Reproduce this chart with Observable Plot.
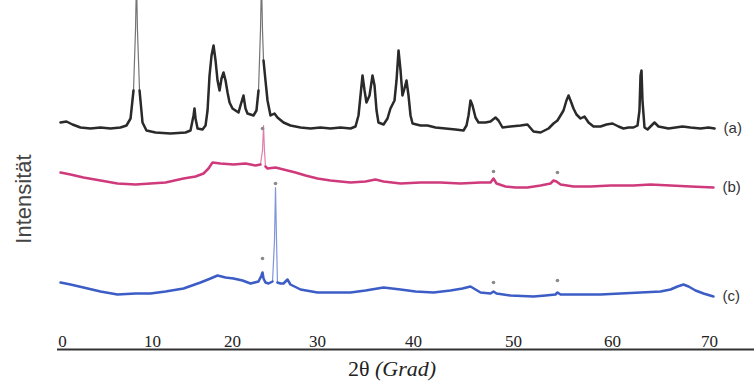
<!DOCTYPE html>
<html>
<head>
<meta charset="utf-8">
<script src="https://cdn.jsdelivr.net/npm/d3@7"></script>
<script src="https://cdn.jsdelivr.net/npm/@observablehq/plot@0.6"></script>
<style>
  html, body { margin: 0; padding: 0; background: #fff; }
  #wrap { position: relative; width: 754px; height: 385px; overflow: hidden; }
  #xlabel { width: 724px; padding-left: 30px; text-align: center; font-family: "Liberation Serif", serif; font-size: 22px; line-height: 26px; color: #222; }
  #ylabel { position: absolute; left: 24px; top: 199px; transform: translate(-50%, -50%) rotate(-90deg); font-family: "Liberation Sans", sans-serif; font-size: 22px; line-height: 22px; color: #444; white-space: nowrap; }
</style>
</head>
<body>
<div id="wrap"></div>
<script>
// 2θ tick labels (axis labels in the original are not evenly spaced)
const xTicks = [0, 10, 20, 30, 40, 50, 60, 70];
const seriesNames = ["(a)", "(b)", "(c)"];
const yTitle = "Intensität";

// Trace (a): 2θ and intensity (offset, arbitrary units)
const aX = [-0.22, 0.44, 1.11, 2.0, 3.11, 4.22, 5.33, 6.44, 7.11, 7.56, 7.89, 8.11, 8.22, 8.33, 8.56, 8.89, 9.33, 10.38, 12.25, 14.13, 14.75, 15.13, 15.25, 15.38, 15.63, 16.25, 16.63, 16.88, 17.13, 17.38, 17.63, 17.88, 18.13, 18.38, 18.63, 18.88, 19.13, 19.38, 19.63, 20, 20.35, 20.71, 20.94, 21.29, 21.53, 21.76, 22.12, 22.47, 22.82, 23.06, 23.29, 23.41, 23.53, 23.65, 23.88, 24.12, 24.47, 24.94, 25.29, 26.0, 26.82, 28.0, 29.18, 30.31, 31.35, 32.40, 33.44, 33.96, 34.27, 34.48, 34.69, 34.90, 35.10, 35.42, 35.73, 35.94, 36.15, 36.35, 36.88, 37.29, 37.60, 37.81, 38.02, 38.23, 38.44, 38.65, 38.85, 39.06, 39.27, 39.48, 39.69, 39.90, 40.7, 41.4, 42.2, 43.2, 44.2, 45.0, 45.3, 45.5, 45.7, 45.9, 46.2, 46.5, 47.2, 47.7, 48.2, 48.5, 48.9, 49.7, 50.71, 51.41, 52.02, 52.73, 53.54, 54.04, 54.44, 54.75, 55.05, 55.35, 55.56, 55.76, 56.06, 56.36, 56.77, 57.17, 57.58, 58.08, 58.79, 59.39, 60.0, 60.62, 61.13, 61.65, 62.16, 62.58, 62.78, 62.89, 62.99, 63.09, 63.30, 63.61, 64.02, 64.33, 64.74, 65.26, 65.77, 66.49, 67.22, 68.04, 69.07, 69.9, 70.52];
const aY = [227, 228, 225, 222, 221, 222, 221, 222, 224, 231, 259, 319, 370, 319, 259, 227, 219, 217, 216, 217, 219, 234, 241, 231, 221, 220, 224, 239, 274, 294, 304, 289, 269, 259, 271, 277, 269, 257, 247, 241, 239, 237, 244, 254, 241, 236, 235, 234, 239, 259, 319, 370, 319, 289, 269, 249, 234, 236, 232, 227, 224, 222, 221, 222, 221, 222, 221, 223, 234, 254, 274, 259, 247, 254, 274, 264, 239, 227, 225, 231, 241, 245, 249, 269, 299, 279, 254, 261, 269, 254, 234, 226, 224, 224, 222, 221, 220, 219, 224, 234, 249, 244, 232, 227, 227, 228, 232, 229, 222, 223, 224, 225, 218, 217, 221, 226, 229, 234, 239, 249, 254, 249, 241, 235, 231, 233, 227, 223, 223, 225, 226, 223, 221, 222, 222, 224, 239, 274, 279, 249, 222, 220, 224, 227, 223, 222, 221, 222, 223, 222, 221, 222, 221];

// Trace (b)
const bX = [-0.22, 0.89, 2.33, 4.22, 6.11, 8.11, 9.78, 11.63, 13.88, 15.38, 16.38, 17.0, 17.5, 18.5, 20.12, 21.53, 22.71, 23.29, 23.53, 23.65, 23.76, 23.88, 24.12, 25.06, 26.0, 27.41, 28.59, 30.0, 31.35, 33.44, 35.0, 36.04, 36.88, 38.65, 40.7, 42.7, 44.7, 46.7, 47.7, 48.0, 48.3, 49.2, 50.2, 51.41, 52.73, 53.74, 54.04, 54.34, 54.75, 56.06, 57.78, 59.8, 62.16, 63.92, 65.98, 68.04, 70.41];
const bY = [177, 175, 172, 169, 166, 165, 166, 167, 171, 173, 176, 181, 187, 186, 185, 186, 184, 185, 199, 224, 199, 183, 181, 182, 180, 177, 174, 171, 169, 167, 168, 170, 168, 166, 167, 167, 166, 167, 167, 171, 166, 163, 162, 162, 164, 166, 169, 168, 165, 163, 163, 164, 164, 165, 164, 163, 162];

// Trace (c)
const cX = [-0.22, 0.89, 2.33, 4.22, 6.11, 8.11, 9.78, 11.63, 13.88, 16.0, 17.25, 18.13, 19.13, 20.12, 21.18, 22.12, 23.06, 23.41, 23.53, 23.65, 23.88, 24.24, 24.71, 24.94, 25.06, 25.18, 25.29, 25.65, 26.0, 26.47, 26.82, 28.0, 30.0, 31.88, 33.44, 35.0, 36.88, 38.65, 40.2, 42.0, 43.7, 44.9, 45.7, 46.2, 46.7, 47.7, 48.0, 48.3, 49.7, 52.02, 53.23, 54.24, 54.44, 54.75, 56.77, 58.79, 60.82, 62.89, 64.95, 65.98, 66.70, 67.32, 67.84, 68.56, 69.38, 70.41];
const cY = [67, 65, 62, 58, 55, 56, 56, 58, 61, 67, 71, 74, 72, 71, 69, 66, 68, 74, 77, 71, 67, 66, 68, 109, 162, 109, 67, 66, 66, 70, 65, 60, 57, 57, 57, 59, 62, 60, 58, 57, 59, 61, 63, 60, 57, 56, 58, 56, 54, 53, 54, 55, 57, 55, 55, 55, 56, 57, 58, 60, 63, 65, 63, 59, 56, 53];

// Reflex markers (*) above peaks
const markX = [23.53, 48.0, 54.44, 23.53, 25.06, 48.0, 54.44];
const markY = [221, 178, 177, 91, 166, 67, 69];

const toRows = (xs, ys, name) => xs.map((x, i) => ({x, y: ys[i], s: name}));
const rows = [
  ...toRows(aX, aY, seriesNames[0]),
  ...toRows(bX, bY, seriesNames[1]),
  ...toRows(cX, cY, seriesNames[2])
];
const marks = markX.map((x, i) => ({x, y: markY[i]}));

const colors = ["#2a2a2a", "#cf3a7c", "#3c5cc6"];
// above these levels the very sharp reflexes are printed as thin, faint strokes
const sharpLevel = {"(a)": 310, "(b)": 192, "(c)": 100};

// the printed 2θ axis is unevenly spaced: warp degrees piecewise onto the axis
const axisWarp = d3.scaleLinear().domain(xTicks).range([62, 152, 232, 317, 413, 513, 612, 709]);

const chart = Plot.plot({
  width: 754,
  height: 356,
  marginLeft: 57,
  marginRight: 0,
  marginTop: 0,
  marginBottom: 7,
  x: {transform: axisWarp, domain: [0, 754], range: [0, 754], axis: null},
  y: {domain: [0, 349], range: [349, 0], axis: null},
  color: {domain: seriesNames, range: colors},
  marks: [
    Plot.line(rows, {x: "x", y: "y", z: "s", stroke: "s", strokeWidth: 1.2, strokeOpacity: 0.65, strokeLinejoin: "round", clip: true}),
    Plot.line(rows, {x: "x", y: d => d.y <= sharpLevel[d.s] ? d.y : NaN, z: "s", stroke: "s", strokeWidth: 2.5, strokeLinejoin: "round", clip: true}),
    Plot.dot(marks, {x: "x", y: "y", r: 1.8, fill: "#8a8a8a", stroke: "none"}),
    Plot.text(rows, Plot.selectLast({x: "x", y: "y", z: "s", text: "s", textAnchor: "start", dx: 9, fontFamily: "Liberation Sans", fontSize: 15, fill: "#333"})),
    Plot.ruleY([0], {stroke: "#333", strokeWidth: 2}),
    Plot.text(xTicks, {x: d => d, y: 0, dy: -8, text: d => String(d), fontFamily: "Liberation Serif", fontSize: 17, fill: "#222"})
  ]
});

const wrap = document.getElementById("wrap");
wrap.appendChild(chart);
const xl = document.createElement("div");
xl.id = "xlabel";
xl.innerHTML = "2θ <i>(Grad)</i>";
wrap.appendChild(xl);
const yl = document.createElement("div");
yl.id = "ylabel";
yl.textContent = yTitle;
wrap.appendChild(yl);
</script>
</body>
</html>
